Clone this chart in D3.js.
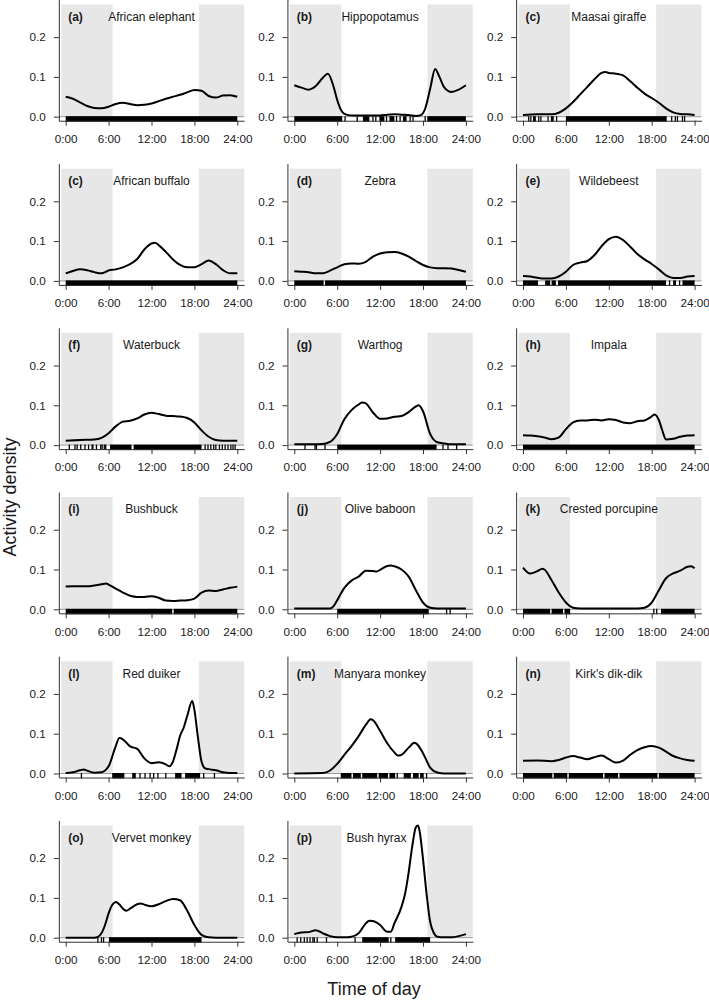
<!DOCTYPE html>
<html>
<head>
<meta charset="utf-8">
<script src="https://cdn.jsdelivr.net/npm/d3@7"></script>
<style>
  body { margin: 0; background: #fff; }
  svg { display: block; font-family: "Liberation Sans", Arial, sans-serif; }
</style>
</head>
<body>
<script>
// panel titles
const panelTags = ["(a)", "(b)", "(c)", "(c)", "(d)", "(e)", "(f)", "(g)", "(h)", "(i)", "(j)", "(k)", "(l)", "(m)", "(n)", "(o)", "(p)"];
const species = ["African elephant", "Hippopotamus", "Maasai giraffe", "African buffalo", "Zebra", "Wildebeest",
  "Waterbuck", "Warthog", "Impala", "Bushbuck", "Olive baboon", "Crested porcupine",
  "Red duiker", "Manyara monkey", "Kirk's dik-dik", "Vervet monkey", "Bush hyrax"];

const xTicks = [0, 6, 12, 18, 24];
const xTickLabels = ["0:00", "6:00", "12:00", "18:00", "24:00"];
const yTicks = [0, 0.1, 0.2];
const night = [[-0.62, 6.57], [18.62, 24.96]];

// activity density curves, [hour, density]
const elephant = [[0,.050],[1,.045],[2,.036],[3,.027],[4,.022],[5,.021],[6,.025],[7,.032],[8,.035],[9,.032],[10,.029],[11,.030],[12,.033],[13,.039],[14,.045],[15,.050],[16,.055],[17,.061],[18,.067],[19,.065],[20,.052],[21,.048],[22,.053],[23,.054],[24,.050]];
const hippo = [[0,.079],[1,.073],[2,.068],[3,.077],[4,.098],[4.7,.108],[5.5,.075],[6,.042],[6.5,.018],[7,.007],[8,.003],[10,.003],[12,.003],[13,.005],[14,.006],[15,.005],[16,.004],[17,.002],[17.7,.004],[18.3,.02],[19,.07],[19.7,.12],[20.3,.1],[21,.073],[22,.062],[23,.068],[24,.079]];
const giraffe = [[0,.004],[2,.006],[4,.006],[5,.01],[6,.021],[7,.037],[8,.056],[9,.075],[10,.094],[11,.11],[11.5,.112],[12,.11],[13,.108],[14,.104],[15,.089],[16,.073],[17,.058],[18,.047],[19,.035],[20,.021],[21,.011],[22,.007],[23,.006],[24,.004]];
const buffalo = [[0,.019],[1,.025],[2,.029],[3,.027],[4,.022],[5,.019],[6,.026],[7,.029],[8,.034],[9,.042],[10,.055],[11,.079],[12,.094],[12.5,.096],[13,.09],[14,.073],[15,.054],[16,.04],[17,.034],[18,.034],[19,.042],[20,.051],[21,.042],[22,.027],[23,.019],[24,.019]];
const zebra = [[0,.024],[1,.023],[2,.022],[3,.019],[4,.019],[5,.026],[6,.034],[7,.042],[8,.044],[9,.043],[10,.048],[11,.061],[12,.069],[13,.072],[14,.0725],[15,.069],[16,.061],[17,.05],[18,.04],[19,.034],[20,.032],[21,.032],[22,.031],[23,.0275],[24,.023]];
const wildebeest = [[0,.0125],[1,.011],[2,.008],[3,.006],[4,.006],[5,.011],[6,.023],[7,.04],[8,.046],[9,.05],[10,.065],[11,.0875],[12,.105],[13,.111],[14,.1025],[15,.086],[16,.0675],[17,.054],[18,.0425],[19,.029],[20,.014],[21,.0075],[22,.0075],[23,.011],[24,.0125]];
const waterbuck = [[0,.011],[2,.013],[4,.014],[5,.018],[6,.03],[7,.047],[8,.059],[9,.061],[10,.067],[11,.077],[12,.081],[13,.078],[14,.074],[15,.073],[16,.072],[17,.068],[18,.057],[19,.037],[20,.021],[21,.013],[22,.011],[23,.011],[24,.011]];
const warthog = [[0,.002],[2,.002],[4,.003],[5,.008],[6,.028],[7,.065],[8,.088],[9,.102],[9.5,.107],[10,.105],[11,.082],[12,.066],[13,.067],[14,.071],[15,.073],[16,.083],[17,.097],[17.4,.1],[18,.085],[19,.028],[20,.007],[21,.004],[22,.002],[24,.002]];
const impala = [[0,.025],[1,.024],[2,.022],[3,.019],[4,.015],[5,.019],[6,.04],[7,.057],[8,.062],[9,.062],[10,.064],[11,.062],[12,.065],[13,.063],[14,.057],[15,.055],[16,.06],[17,.062],[18,.072],[18.4,.077],[19,.063],[19.5,.036],[20,.014],[21,.016],[22,.021],[23,.024],[24,.025]];
const bushbuck = [[0,.057],[1,.058],[2,.058],[3,.058],[4,.06],[5,.063],[5.7,.065],[6,.062],[7,.052],[8,.042],[9,.034],[10,.031],[11,.031],[12,.033],[13,.029],[14,.022],[15,.021],[16,.022],[17,.023],[18,.027],[19,.042],[20,.047],[21,.046],[22,.05],[23,.054],[24,.057]];
const baboon = [[0,.002],[5,.002],[5.5,.008],[6,.023],[7,.054],[8,.072],[9,.082],[10,.097],[11,.096],[11.5,.095],[12,.099],[13,.109],[13.5,.11],[14,.108],[15,.1],[16,.082],[17,.048],[18,.017],[19,.004],[20,.002],[24,.002]];
const porcupine = [[0,.105],[1,.09],[2,.096],[2.7,.102],[3,.1],[4,.073],[5,.042],[6,.017],[7,.004],[8,.002],[16,.002],[17,.004],[18,.017],[19,.048],[20,.078],[21,.09],[22,.097],[23,.107],[23.5,.108],[24,.103]];
const redDuiker = [[0,.001],[1,.003],[2,.008],[2.5,.01],[3,.007],[4,.002],[5,.003],[6,.018],[7,.069],[7.5,.089],[8,.086],[9,.068],[10,.062],[11,.038],[12,.026],[13,.028],[14,.023],[14.5,.018],[15,.03],[15.5,.06],[16,.095],[16.5,.115],[17,.145],[17.7,.182],[18,.16],[18.5,.09],[19,.03],[19.5,.013],[20,.011],[21,.008],[22,.003],[23,.001],[24,.001]];
const manyara = [[0,0],[4,.001],[5,.0075],[6,.024],[7,.047],[8,.069],[9,.094],[10,.122],[10.7,.136],[11,.134],[12,.107],[13,.076],[14,.053],[14.5,.045],[15,.047],[16,.065],[16.8,.077],[17,.076],[18,.051],[19,.015],[20,.0025],[21,0],[24,0]];
const dikdik = [[0,.032],[2,.0325],[4,.031],[5,.034],[6,.04],[7,.044],[8,.04],[9,.036],[10,.041],[11,.045],[12,.036],[13,.0275],[14,.0325],[15,.047],[16,.059],[17,.066],[18,.069],[19,.065],[20,.055],[21,.044],[22,.038],[23,.034],[24,.032]];
const vervet = [[0,0],[4,0],[4.5,.002],[5,.011],[5.5,.032],[6,.061],[6.5,.082],[7,.09],[7.5,.084],[8,.073],[8.5,.068],[9,.073],[10,.084],[10.5,.086],[11,.083],[12,.079],[13,.084],[14,.092],[15,.0975],[16,.094],[17,.0675],[18,.032],[19,.007],[20,.001],[21,0],[24,0]];
const hyrax = [[0,.009],[1,.013],[2,.014],[3,.019],[4,.011],[5,.004],[6,.001],[7,.001],[8,.0025],[9,.011],[10,.036],[10.5,.0425],[11,.0417],[12,.032],[13,.015],[13.5,.015],[14,.036],[15,.078],[15.5,.111],[16,.165],[16.5,.23],[17,.2775],[17.3,.282],[17.5,.27],[18,.198],[18.5,.11],[19,.04],[19.5,.0125],[20,.0025],[21,.001],[22,.001],[23,.004],[24,.009]];

// rug of detections: single hour = one tick, [from, to] = dense run of ticks
const elephantRug = [[0, 24]];
const hippoRug = [[0, 6.7], 7.1, 8.8, [9.6, 10.5], 11.0, 11.4, [11.9, 12.6], 12.9, [13.3, 14.0], 14.3, 14.8, [15.2, 15.7], 16.2, 16.6, 18.3, [18.6, 24]];
const giraffeRug = [0.8, 1.1, [1.4, 1.8], 2.2, 2.5, 3.5, [3.9, 4.3], 4.7, [6.0, 20.1], 20.8, 21.3, 21.6, 22.3, 22.6];
const buffaloRug = [[0, 24]];
const zebraRug = [[0, 4.1], [4.3, 24]];
const wildebeestRug = [[0, 2.1], [3.1, 3.8], [4.0, 4.6], [4.9, 20.0], 20.5, [21.0, 21.4], 21.9, [22.3, 24]];
const waterbuckRug = [0.5, 1.3, 1.6, 2.1, 2.7, 3.2, 3.7, 3.8, 4.3, 4.9, 5.1, 5.4, 5.6, [6.2, 9.2], [9.5, 19.0], 19.5, 19.9, 20.3, 20.7, 21.0, 21.5, 21.9, 22.3, 22.7, 23.1, 23.4, 23.7];
const warthogRug = [1.5, 2.9, 3.1, 4.3, [6.0, 19.9], 20.8, 21.5, 22.7];
const impalaRug = [[0, 24]];
const bushbuckRug = [[0, 14.9], [15.1, 24]];
const baboonRug = [[6.0, 18.8], 21.3, 21.8];
const porcupineRug = [[0, 3.8], [4.0, 5.6], [5.8, 6.6], 18.3, 18.7, [19.3, 24]];
const redDuikerRug = [2.2, [6.5, 8.2], [9.3, 9.8], 10.4, 11.1, 11.8, 12.3, 12.9, 14.0, [15.3, 16.2], [16.7, 18.8], 19.3, 20.8];
const manyaraRug = [[6.5, 8.0], [8.2, 9.3], [9.5, 11.6], [11.8, 13.1], [13.3, 14.1], 14.4, [15.3, 16.3], [16.6, 17.4], [17.6, 18.1], 18.5];
const dikdikRug = [[0, 4.1], [4.3, 6.2], [6.4, 11.2], [11.4, 13.3], [13.5, 18.8], [19.0, 24]];
const vervetRug = [4.5, 5.0, 5.3, [6.05, 19.0]];
const hyraxRug = [0.4, 0.9, 1.4, 1.8, 2.2, 2.6, 2.8, 3.2, 4.5, 8.5, [9.5, 13.2], 13.5, [14.1, 19.0]];

const curves = [elephant, hippo, giraffe, buffalo, zebra, wildebeest, waterbuck, warthog, impala,
  bushbuck, baboon, porcupine, redDuiker, manyara, dikdik, vervet, hyrax];
const rugs = [elephantRug, hippoRug, giraffeRug, buffaloRug, zebraRug, wildebeestRug, waterbuckRug, warthogRug, impalaRug,
  bushbuckRug, baboonRug, porcupineRug, redDuikerRug, manyaraRug, dikdikRug, vervetRug, hyraxRug];

const W = 709, H = 1001;
const svg = d3.select("body").append("svg").attr("width", W).attr("height", H);

// layout: x of 0:00 per column, y of zero density per row
const colX = [65.7, 294.3, 523];
const rowY = d3.range(6).map(r => 116.7 + 164.2 * r);
const hourW = 7.15, unitH = 398;

const line = d3.line().curve(d3.curveMonotoneX);

species.forEach((name, i) => {
  const x0 = colX[i % 3], y0 = rowY[Math.floor(i / 3)];
  const x = d3.scaleLinear().domain([-0.96, 24.96]).range([x0 - 0.96 * hourW, x0 + 24.96 * hourW]);
  const y = d3.scaleLinear().domain([-0.0101, 0.2947]).range([y0 + 0.0101 * unitH, y0 - 0.2947 * unitH]);
  const g = svg.append("g");
  const [left, right] = x.range();

  // night shading
  g.selectAll("rect.night").data(night).join("rect")
    .attr("class", "night")
    .attr("x", d => x(d[0])).attr("width", d => x(d[1]) - x(d[0]))
    .attr("y", y(0.282)).attr("height", y(0) - y(0.282))
    .attr("fill", "#e7e7e7");

  // zero line
  g.append("line")
    .attr("x1", left).attr("x2", right)
    .attr("y1", y(0)).attr("y2", y(0))
    .attr("stroke", "#9a9a9a").attr("stroke-width", 1);

  // rug
  const rug = rugs[i];
  g.selectAll("rect.band").data(rug.filter(d => Array.isArray(d))).join("rect")
    .attr("class", "band")
    .attr("x", d => x(d[0])).attr("width", d => x(d[1]) - x(d[0]))
    .attr("y", y(0) - 0.5).attr("height", 5.5)
    .attr("fill", "#000");
  g.selectAll("line.tick1").data(rug.filter(d => !Array.isArray(d))).join("line")
    .attr("class", "tick1")
    .attr("x1", d => x(d)).attr("x2", d => x(d))
    .attr("y1", y(0) - 0.5).attr("y2", y(0) + 5)
    .attr("stroke", "#000").attr("stroke-width", 1.3);

  // axes
  const ax = g.append("g").attr("transform", `translate(0,${y.range()[0]})`)
    .call(d3.axisBottom(x).tickValues(xTicks).tickFormat((d, k) => xTickLabels[k])
      .tickSize(5).tickSizeOuter(0).tickPadding(9));
  const ay = g.append("g").attr("transform", `translate(${left},0)`)
    .call(d3.axisLeft(y).tickValues(yTicks).tickFormat(d3.format(".1f"))
      .tickSize(5).tickSizeOuter(0).tickPadding(8));
  [ax, ay].forEach(a => {
    a.selectAll("path,line").attr("stroke", "#333");
    a.selectAll("text").attr("fill", "#1a1a1a").style("font-size", "11.7px")
      .style("font-family", '"Liberation Sans", Arial, sans-serif');
  });

  // density curve
  g.append("path")
    .datum(curves[i])
    .attr("d", line.x(d => x(d[0])).y(d => y(d[1])))
    .attr("fill", "none").attr("stroke", "#000").attr("stroke-width", 2)
    .attr("stroke-linejoin", "round");

  // titles (hyrax title nudged left of its tall peak)
  g.append("text").attr("x", x0 + 2.5).attr("y", y0 - 96)
    .attr("font-size", 12).attr("font-weight", "bold").attr("fill", "#1a1a1a")
    .text(panelTags[i]);
  g.append("text").attr("x", x(name === "Bush hyrax" ? 11.5 : 12)).attr("y", y0 - 96)
    .attr("text-anchor", "middle").attr("font-size", 12).attr("fill", "#1a1a1a")
    .text(name);
});

svg.append("text").attr("x", 374).attr("y", 995)
  .attr("text-anchor", "middle").attr("font-size", 18).attr("fill", "#1a1a1a")
  .text("Time of day");
svg.append("text").attr("transform", "translate(16,497) rotate(-90)")
  .attr("text-anchor", "middle").attr("font-size", 18).attr("fill", "#1a1a1a")
  .text("Activity density");
</script>
</body>
</html>
